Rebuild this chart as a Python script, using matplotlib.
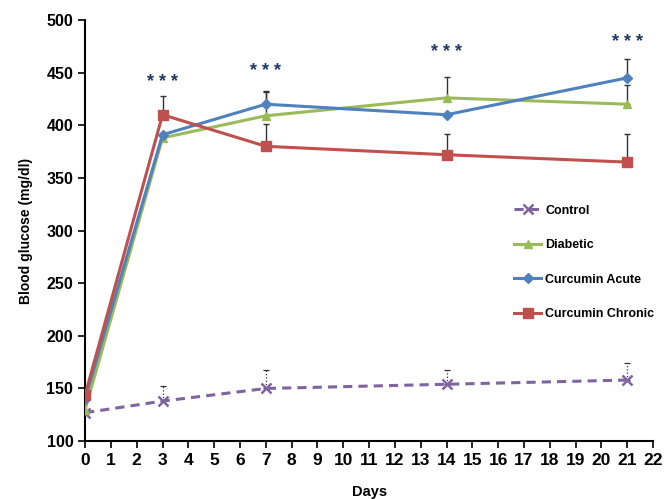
import matplotlib.pyplot as plt

days = [0, 3, 7, 14, 21]

control = [127, 138, 150, 154, 158]
control_err = [0, 14, 18, 14, 16]
diabetic = [130, 388, 409, 426, 420]
diabetic_err = [8, 0, 24, 20, 18]
acute = [140, 391, 420, 410, 445]
acute_err = [6, 0, 12, 0, 18]
chronic = [144, 410, 380, 372, 365]
chronic_err = [6, 18, 21, 20, 27]

star_days = [3, 7, 14, 21]
star_y = [441, 451, 469, 479]

plt.rcParams['font.family'] = ['Liberation Sans', 'DejaVu Sans']

fig = plt.figure(figsize=(6.65, 4.99), dpi=100)
ax = fig.add_axes([0.128, 0.116, 0.854, 0.844])

# control: dotted error bars
eb = ax.errorbar(days, control, yerr=[[0] * 5, control_err], fmt='none',
                 ecolor='#333333', elinewidth=0.9, capsize=2, capthick=0.9)
eb[2][0].set_linestyle(':')
ax.plot(days, control, color='#8064A2', lw=2.2, ls=(0, (3, 2)), marker='x',
        ms=7, mew=1.8, label='Control', zorder=3)

series = [
    (diabetic, diabetic_err, '#9BBB59', '^', 'Diabetic', 6),
    (acute, acute_err, '#4F81BD', 'D', 'Curcumin Acute', 5),
    (chronic, chronic_err, '#C0504D', 's', 'Curcumin Chronic', 7),
]
for vals, err, col, mk, lab, ms in series:
    ax.errorbar(days, vals, yerr=[[0] * 5, err], fmt='none', ecolor='#333333',
                elinewidth=1.0, capsize=2.5, capthick=1.0, zorder=2)
    ax.plot(days, vals, color=col, lw=2.2, marker=mk, ms=ms, label=lab,
            zorder=3)

for d, y in zip(star_days, star_y):
    ax.text(d, y, '* * *', ha='center', va='center', fontsize=13,
            fontweight='bold', color='#1F3864')

ax.set_xlim(0, 22)
ax.set_ylim(100, 500)
ax.set_xticks(range(0, 23))
ax.set_yticks(range(100, 501, 50))
ax.spines['top'].set_visible(False)
ax.spines['right'].set_visible(False)
ax.spines['left'].set_linewidth(1.5)
ax.spines['bottom'].set_linewidth(1.5)
ax.tick_params(axis='both', direction='out', width=1.2, length=5)
ax.tick_params(axis='x', labelsize=12.5)
ax.tick_params(axis='y', labelsize=11.5)
for lbl in ax.get_xticklabels() + ax.get_yticklabels():
    lbl.set_fontweight('bold')

ax.set_xlabel('Days', fontsize=10.5, fontweight='bold', labelpad=12)
ax.set_ylabel('Blood glucose (mg/dl)', fontsize=10, fontweight='bold',
              labelpad=10)

ax.legend(loc='upper left', bbox_to_anchor=(0.735, 0.588), frameon=False,
          labelspacing=1.8, handlelength=2.2, handletextpad=0.3,
          prop={'weight': 'bold', 'size': 9})

fig.savefig('out.png', dpi=100)
